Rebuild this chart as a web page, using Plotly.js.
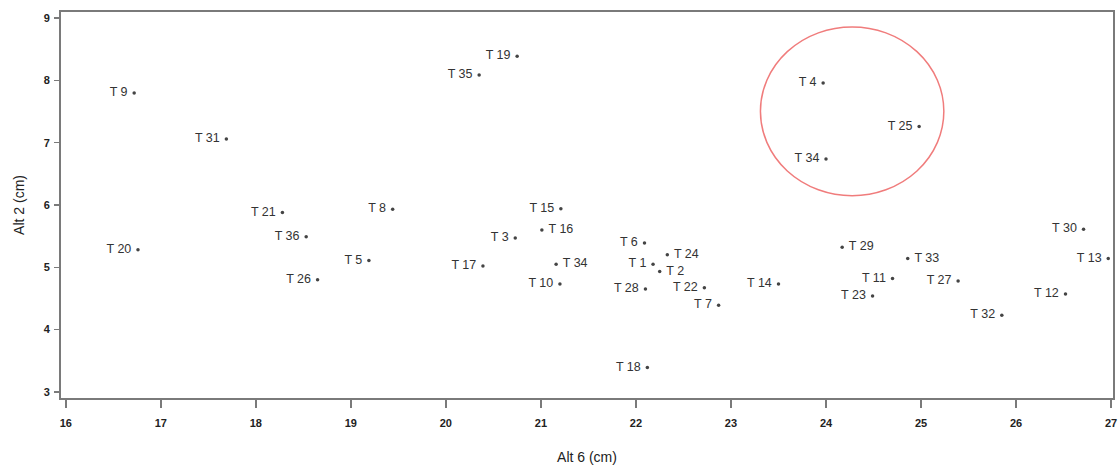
<!DOCTYPE html>
<html>
<head>
<meta charset="utf-8">
<script src="https://cdn.plot.ly/plotly-3.0.1.min.js"></script>
<style>html,body{margin:0;padding:0;background:#fff;}#chart{width:1120px;height:468px;}</style>
</head>
<body>
<div id="chart"></div>
<script>
// Labels of the points (T = treatment number)
const labels = ["T 1","T 2","T 3","T 4","T 5","T 6","T 7","T 8","T 9","T 10",
  "T 11","T 12","T 13","T 14","T 15","T 16","T 17","T 18","T 19","T 20",
  "T 21","T 22","T 23","T 24","T 25","T 26","T 27","T 28","T 29","T 30",
  "T 31","T 32","T 33","T 34","T 34","T 35","T 36"];
// Alt 6 (cm)
const alt6 = [22.18,22.25,20.73,23.97,19.19,22.09,22.87,19.44,16.72,21.20,
  24.70,26.52,26.97,23.50,21.21,21.01,20.39,22.12,20.75,16.76,
  18.28,22.72,24.49,22.33,24.98,18.65,25.39,22.10,24.17,26.71,
  17.69,25.85,24.86,21.16,24.00,20.35,18.53];
// Alt 2 (cm)
const alt2 = [5.05,4.93,5.47,7.96,5.11,5.39,4.39,5.93,7.80,4.73,
  4.82,4.57,5.14,4.73,5.94,5.60,5.02,3.39,8.39,5.28,
  5.88,4.67,4.54,5.20,7.26,4.80,4.78,4.65,5.32,5.61,
  7.06,4.23,5.14,5.05,6.74,8.09,5.49];
// side of each label relative to its point (L = left, R = right)
const labelSide = ["L","R","L","L","L","L","L","L","L","L",
  "L","L","L","L","L","R","L","L","L","L",
  "L","L","L","R","L","L","L","L","R","L",
  "L","L","R","R","L","L","L"];
// highlighted group (ellipse bounds in data units: x0, x1, y0, y1)
const ellipseBounds = [23.31, 25.24, 6.15, 8.86];
const xTicks = [16,17,18,19,20,21,22,23,24,25,26,27];
const yTicks = [3,4,5,6,7,8,9];

const NB = "\u00a0";
const positions = labelSide.map(s => s === "R" ? "middle right" : "middle left");
const texts = labels.map((l, i) => labelSide[i] === "R" ? NB + l : l + NB);

const trace = {
  type: "scatter",
  mode: "markers+text",
  x: alt6,
  y: alt2,
  text: texts,
  textposition: positions,
  textfont: {family: "Liberation Sans Narrow, Liberation Sans, Arial", size: 12.5, color: "#333"},
  marker: {symbol: "circle", size: 3.5, color: "#444"},
  cliponaxis: false,
  hoverinfo: "x+y+text"
};

const axisCommon = {
  showgrid: false,
  zeroline: false,
  showline: true,
  linecolor: "#7a7a7a",
  linewidth: 2,
  mirror: true,
  ticks: "outside",
  tickcolor: "#7a7a7a",
  tickwidth: 1.5,
  tickfont: {family: "Liberation Sans Narrow, Liberation Sans, Arial", size: 11, color: "#222", weight: "bold"}
};

const layout = {
  width: 1120,
  height: 468,
  margin: {l: 61, r: 7, t: 12, b: 70},
  paper_bgcolor: "#fff",
  plot_bgcolor: "#fff",
  showlegend: false,
  xaxis: Object.assign({}, axisCommon, {
    range: [15.95, 27.02],
    tickvals: xTicks,
    ticktext: xTicks.map(String),
    ticklen: 8,
    ticklabelstandoff: 6,
    title: {text: "Alt 6 (cm)", font: {family: "Liberation Sans, Arial", size: 14, color: "#222"}, standoff: 24}
  }),
  yaxis: Object.assign({}, axisCommon, {
    range: [2.9, 9.1],
    tickvals: yTicks,
    ticktext: yTicks.map(String),
    ticklen: 5,
    ticklabelstandoff: 2,
    title: {text: "Alt 2 (cm)", font: {family: "Liberation Sans, Arial", size: 14, color: "#222"}, standoff: 16}
  }),
  shapes: [{
    type: "circle",
    xref: "x", yref: "y",
    x0: ellipseBounds[0], x1: ellipseBounds[1],
    y0: ellipseBounds[2], y1: ellipseBounds[3],
    line: {color: "#f07c7c", width: 1.5}
  }]
};

Plotly.newPlot("chart", [trace], layout, {displayModeBar: false, staticPlot: true});
</script>
</body>
</html>
